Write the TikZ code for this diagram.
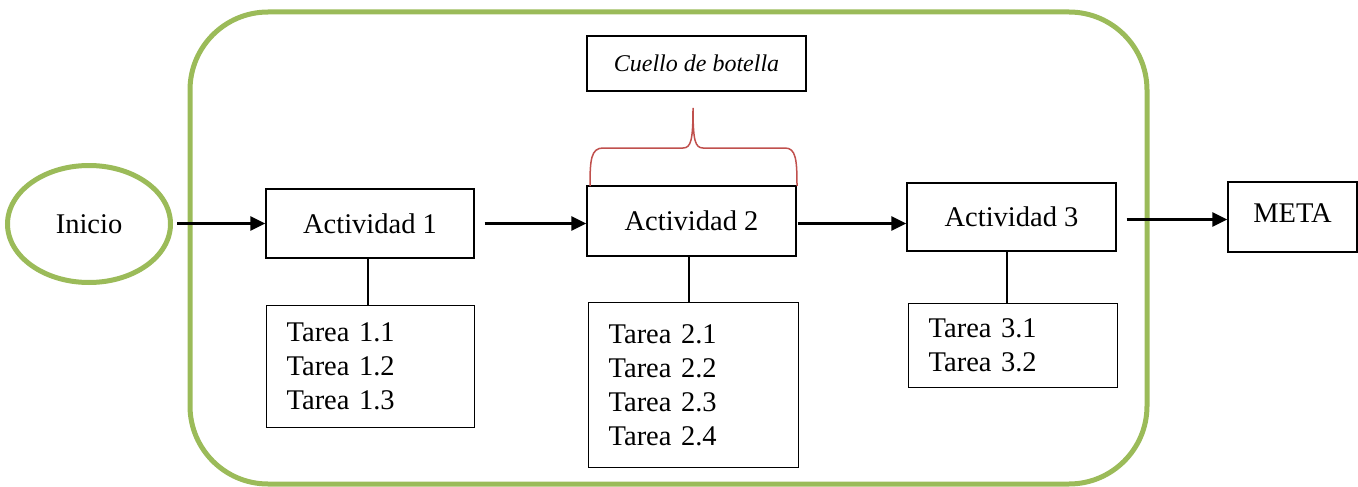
\documentclass[tikz,border=0pt]{standalone}
\usepackage{fontspec}
\setmainfont{Liberation Serif}
\usetikzlibrary{arrows.meta,shapes.geometric}
\definecolor{ogreen}{HTML}{9BBB59}
\definecolor{ored}{HTML}{C0504D}
\tikzset{
  box/.style={draw, line width=1.3pt, inner sep=0pt, font=\fontsize{28.5}{34}\selectfont},
  tbox/.style={draw, line width=1.3pt, anchor=north west, align=left, inner xsep=20pt, inner ysep=0pt, font=\fontsize{28.5}{34}\selectfont},
  arr/.style={line width=2.4pt, -{Triangle[length=15pt,width=14pt]}},
  link/.style={line width=2.4pt},
}
\begin{document}
\begin{tikzpicture}[x=1pt,y=-1pt]
\useasboundingbox (0,0) rectangle (1358,487);
% container
\draw[ogreen, line width=5pt, rounded corners=78pt] (190,12) rectangle (1147,484);
% start
\node[ellipse, draw=ogreen, line width=5pt, minimum width=163pt, minimum height=117pt, inner sep=0pt, font=\fontsize{28.5}{34}\selectfont] (ini) at (89,224) {Inicio};
% activities
\node[box, minimum width=208pt, minimum height=69pt] (a1) at (370,223.5) {Actividad 1};
\node[box, minimum width=209pt, minimum height=70pt] (a2) at (691.5,221) {Actividad 2};
\node[box, minimum width=209pt, minimum height=68pt] (a3) at (1011.5,217) {Actividad 3};
\node[box, minimum width=129pt, minimum height=70pt] (meta) at (1292.5,217) {\raisebox{7pt}{META}};
% tasks
\node[tbox, text width=168pt, minimum height=122pt] (t1) at (266,305) {Tarea 1.1\\Tarea 1.2\\Tarea 1.3};
\node[tbox, text width=170pt, minimum height=165pt] (t2) at (588,302) {Tarea 2.1\\Tarea 2.2\\Tarea 2.3\\Tarea 2.4};
\node[tbox, text width=169pt, minimum height=84pt] (t3) at (908,303) {Tarea 3.1\\Tarea 3.2};
% bottleneck label
\node[box, minimum width=219pt, minimum height=55pt, font=\fontsize{24}{28}\itshape] (cb) at (696.5,63.5) {Cuello de botella};
% brace
\draw[ored, line width=1.5pt] (590,186) .. controls (590,160) and (591,148) .. (603,148)
  -- (683,148) .. controls (691,148) and (693,140) .. (693,108)
  .. controls (693,140) and (695,148) .. (703,148)
  -- (785,148) .. controls (796,148) and (797,160) .. (797,186);
% connectors
\draw[arr] ([xshift=-88pt]a1.west) -- (a1.west);
\draw[arr] ([xshift=10pt]a1.east) -- (a2.west |- a1.east);
\draw[arr] ([xshift=1pt]a2.east |- a1.east) -- (a3.west |- a1.east);
\draw[arr] ([xshift=10pt,yshift=-2.5pt]a3.east) -- ([yshift=-2.5pt]meta.west);
\draw[link] ([xshift=-2pt]a1.south) -- ([xshift=-2pt]a1.south |- t1.north);
\draw[link] ([xshift=-2.5pt]a2.south) -- ([xshift=-2.5pt]a2.south |- t2.north);
\draw[link] ([xshift=-4.5pt]a3.south) -- ([xshift=-4.5pt]a3.south |- t3.north);
\end{tikzpicture}
\end{document}
